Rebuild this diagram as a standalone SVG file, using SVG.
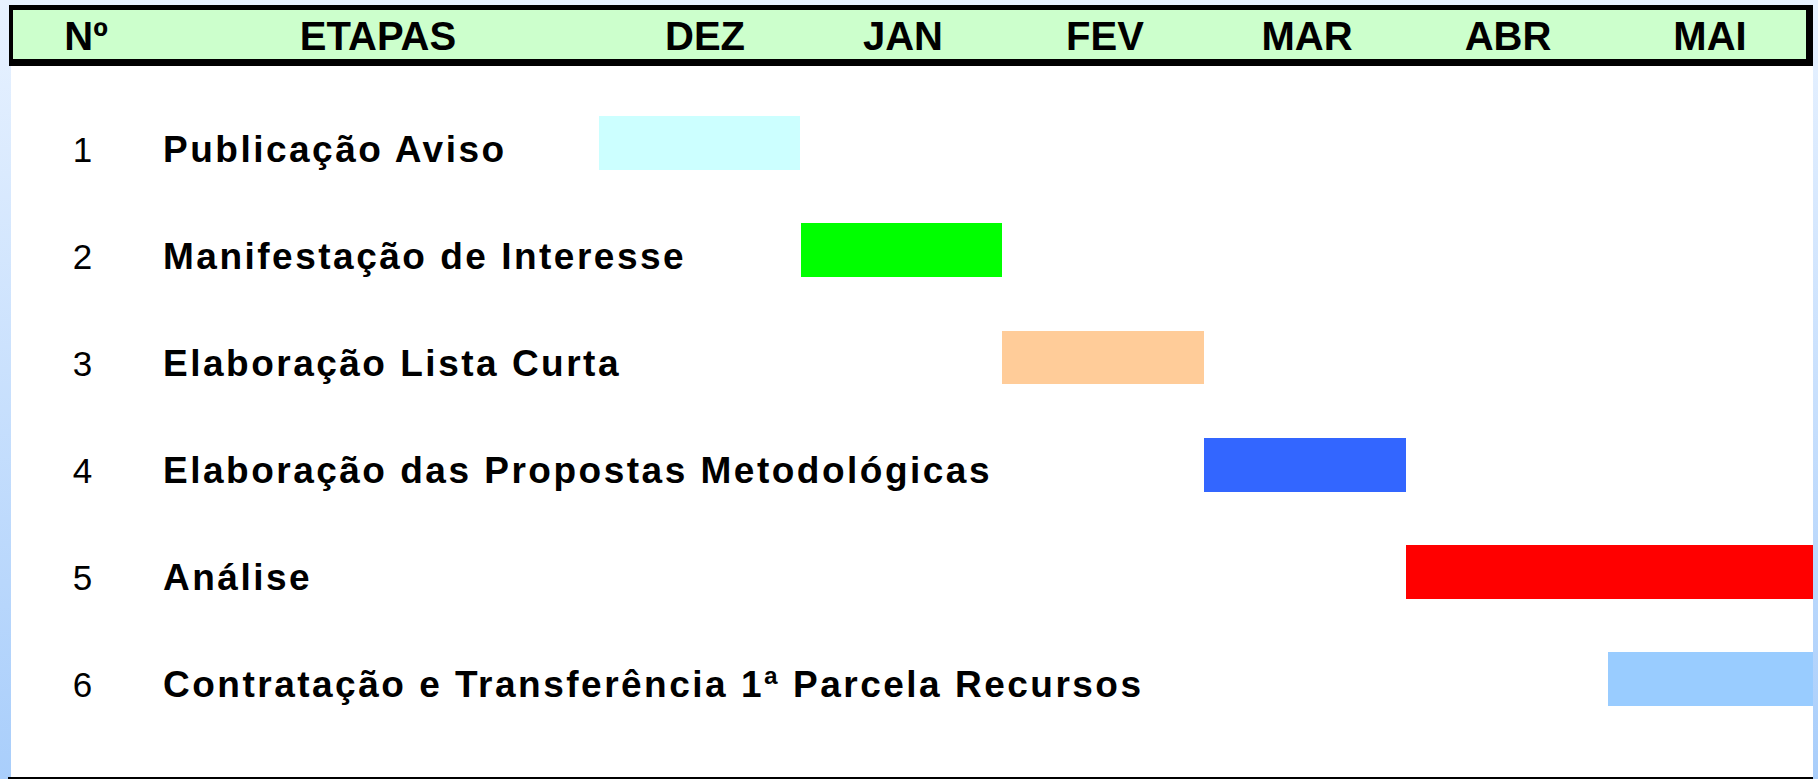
<svg xmlns="http://www.w3.org/2000/svg" width="1818" height="779" viewBox="0 0 1818 779">
<defs>
<linearGradient id="bg" x1="0" y1="0" x2="0" y2="1">
<stop offset="0" stop-color="#E8F2FF"/>
<stop offset="1" stop-color="#A9CEFB"/>
</linearGradient>
</defs>
<style>
.hd{font-family:"Liberation Sans",Arial,sans-serif;font-weight:bold;font-size:40px;fill:#000;text-anchor:middle}
.num{font-family:"Liberation Sans",Arial,sans-serif;font-size:35px;fill:#000;text-anchor:middle}
.lbl{font-family:"Liberation Sans",Arial,sans-serif;font-weight:bold;font-size:37px;fill:#000;letter-spacing:2.5px}
</style>
<rect x="0" y="0" width="1818" height="779" fill="url(#bg)"/>
<rect x="11" y="60" width="1802" height="718" fill="#FFFFFF"/>
<rect x="8" y="777" width="1805" height="2" fill="#000"/>
<g id="header">
<rect x="9" y="5" width="1804" height="61" fill="#000"/>
<rect x="13" y="10" width="1793" height="49" fill="#CCFFCC"/>
<text class="hd" x="86" y="50">Nº</text>
<text class="hd" x="378" y="50">ETAPAS</text>
<text class="hd" x="705" y="50">DEZ</text>
<text class="hd" x="903" y="50">JAN</text>
<text class="hd" x="1105" y="50">FEV</text>
<text class="hd" x="1307" y="50">MAR</text>
<text class="hd" x="1508" y="50">ABR</text>
<text class="hd" x="1710" y="50">MAI</text>
</g>
<g id="row1">
<text class="num" x="82.5" y="162">1</text>
<text class="lbl" x="163" y="162">Publicação Aviso</text>
<rect x="599" y="116" width="201" height="54" fill="#CCFFFF"/>
</g>
<g id="row2">
<text class="num" x="82.5" y="269">2</text>
<text class="lbl" x="163" y="269">Manifestação de Interesse</text>
<rect x="801" y="223" width="201" height="54" fill="#00FF00"/>
</g>
<g id="row3">
<text class="num" x="82.5" y="376">3</text>
<text class="lbl" x="163" y="376">Elaboração Lista Curta</text>
<rect x="1002" y="331" width="202" height="53" fill="#FFCC99"/>
</g>
<g id="row4">
<text class="num" x="82.5" y="483">4</text>
<text class="lbl" x="163" y="483">Elaboração das Propostas Metodológicas</text>
<rect x="1204" y="438" width="202" height="54" fill="#3366FF"/>
</g>
<g id="row5">
<text class="num" x="82.5" y="590">5</text>
<text class="lbl" x="163" y="590">Análise</text>
<rect x="1406" y="545" width="407" height="54" fill="#FF0000"/>
</g>
<g id="row6">
<text class="num" x="82.5" y="697">6</text>
<text class="lbl" x="163" y="697">Contratação e Transferência 1ª Parcela Recursos</text>
<rect x="1608" y="652" width="205" height="54" fill="#99CCFF"/>
</g>
<g id="connectors"/>
</svg>
